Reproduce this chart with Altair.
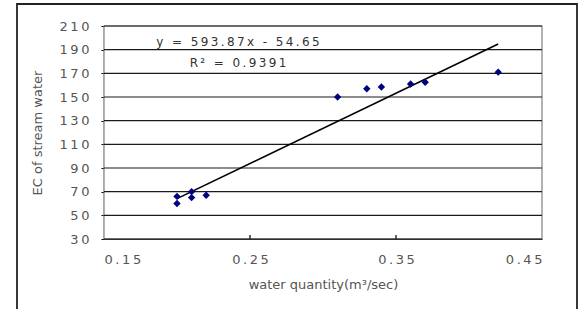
import altair as alt
import pandas as pd

# Data
water_q = [0.20, 0.20, 0.21, 0.21, 0.22, 0.31, 0.33, 0.34, 0.36, 0.37, 0.42]
ec_vals = [66, 60, 70, 65, 67, 150, 157, 158.5, 161, 162.5, 171]

slope = 593.87
intercept = -54.65
fit_x = [0.20, 0.42]

x_ticks = [0.15, 0.25, 0.35, 0.45]
y_ticks = [30, 50, 70, 90, 110, 130, 150, 170, 190, 210]
inner_ticks = [0.25, 0.35]

eq_text = "y = 593.87x - 54.65"
r2_text = "R² = 0.9391"
ann_x = [0.2418, 0.2418]
ann_y = [196.5, 178.8]

TS = "\u2009"  # thin space for wide letter spacing look


def spaced(s):
    return TS.join(list(s))


pts = pd.DataFrame({"q": water_q, "ec": ec_vals})
fit = pd.DataFrame({"q": fit_x})
ann = pd.DataFrame({"q": ann_x, "ec": ann_y, "t": [spaced(eq_text), spaced(r2_text)]})
itk = pd.DataFrame({"q": inner_ticks})
grid = pd.DataFrame({"ec": y_ticks})

FONT = "DejaVu Sans"
LBL = "#555555"

xscale = alt.Scale(domain=[0.15, 0.45], nice=False, zero=False)
yscale = alt.Scale(domain=[30, 210], nice=False, zero=False)

label_expr = "join(split(datum.label, ''), '\u2009')"

xaxis = alt.Axis(
    values=x_ticks, tickCount=len(x_ticks), format=".2f", title="water quantity(m³/sec)",
    labelExpr=label_expr, labelOverlap=False, grid=False, ticks=False,
    labelPadding=14, titlePadding=12, domainColor="#000000", domainWidth=1.2,
)
yaxis = alt.Axis(
    values=y_ticks, tickCount=len(y_ticks), title="EC of stream water", labelExpr=label_expr,
    labelOverlap=False, grid=False,
    ticks=True, tickSize=3, tickColor="#000000", labelPadding=12,
    titlePadding=14, domainColor="#000000", domainWidth=1.2,
)

view_box = alt.Chart(pd.DataFrame({"a": [0]})).mark_rect(
    fill="#ffffff", stroke="#808080", strokeWidth=1.2
).encode(
    x=alt.value(0), x2=alt.value(438), y=alt.value(0), y2=alt.value(213)
)

grid_lines = alt.Chart(grid).mark_rule(color="#1a1a1a", strokeWidth=1.1).encode(
    y=alt.Y("ec:Q", scale=yscale, axis=yaxis),
    x=alt.value(0),
    x2=alt.value(438),
)

base_points = alt.Chart(pts).mark_point(
    shape="diamond", filled=True, color="#000080", size=55, opacity=1
).encode(
    x=alt.X("q:Q", scale=xscale, axis=xaxis),
    y=alt.Y("ec:Q", scale=yscale, axis=yaxis),
)

line = alt.Chart(fit).transform_calculate(
    ec=f"{slope} * datum.q + ({intercept})"
).mark_line(color="#000000", strokeWidth=1.6).encode(
    x=alt.X("q:Q", scale=xscale),
    y=alt.Y("ec:Q", scale=yscale),
)

text = alt.Chart(ann).mark_text(
    font=FONT, fontSize=12, color="#333333", align="center", baseline="middle"
).encode(
    x=alt.X("q:Q", scale=xscale),
    y=alt.Y("ec:Q", scale=yscale),
    text="t:N",
)

ticks_in = alt.Chart(itk).mark_rule(color="#000000", strokeWidth=1.2).encode(
    x=alt.X("q:Q", scale=xscale),
    y=alt.value(213),
    y2=alt.value(209),
)

frame = alt.Chart(pd.DataFrame({"a": [0]})).mark_rect(
    fill=None, stroke="#222222", strokeWidth=1.8
).encode(
    x=alt.value(-87), x2=alt.value(473), y=alt.value(-22), y2=alt.value(300)
)

chart = alt.layer(frame, view_box, grid_lines, line, base_points, text, ticks_in).properties(
    width=438, height=213,
    autosize=alt.AutoSizeParams(type="none"),
    padding={"left": 104, "top": 26, "right": 38, "bottom": 70},
    background="#ffffff",
).configure_view(
    strokeWidth=0
).configure_axis(
    labelFont=FONT, labelFontSize=13, labelColor=LBL,
    titleFont=FONT, titleFontSize=13, titleColor=LBL, titleFontWeight="normal",
)

chart.save("out.html", embed_options={"renderer": "svg", "actions": False})
